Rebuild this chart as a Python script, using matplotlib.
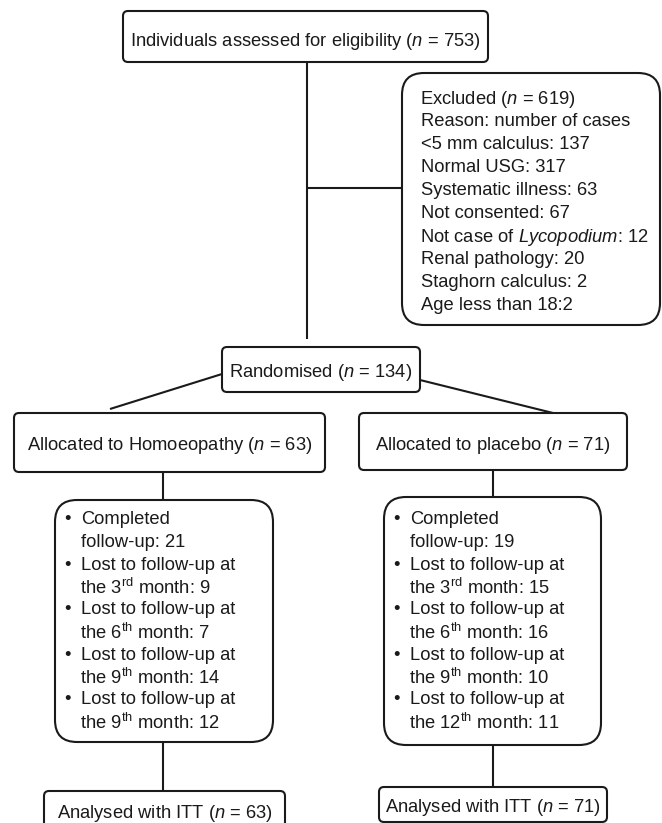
import matplotlib
matplotlib.use("Agg")
import matplotlib.pyplot as plt
from matplotlib.patches import FancyBboxPatch

plt.rcParams["font.family"] = ["Liberation Sans", "DejaVu Sans"]
plt.rcParams["mathtext.fontset"] = "custom"
plt.rcParams["mathtext.rm"] = "Liberation Sans"
plt.rcParams["mathtext.it"] = "Liberation Sans:italic"
plt.rcParams["mathtext.bf"] = "Liberation Sans:bold"

# flow counts
assessed = 753
excluded = 619
exclusion_reasons = ["<5 mm calculus", "Normal USG", "Systematic illness",
                     "Not consented", r"Not case of $\mathit{Lycopodium}$",
                     "Renal pathology", "Staghorn calculus", "Age less than 18"]
exclusion_counts = [137, 317, 63, 67, 12, 20, 2, 2]
randomised = 134
arm_names = ["Homoeopathy", "placebo"]
arm_n = [63, 71]
completed = [21, 19]
lost_months = [["3", "6", "9", "9"], ["3", "6", "9", "12"]]
lost_suffix = [["rd", "th", "th", "th"], ["rd", "th", "th", "th"]]
lost_counts = [[9, 7, 14, 12], [15, 16, 10, 11]]
analysed = [63, 71]

FS = 13.2
LW = 1.5
W, H = 662, 823

fig = plt.figure(figsize=(W / 100, H / 100), dpi=100)
ax = fig.add_axes([0, 0, 1, 1])
ax.set_xlim(0, W)
ax.set_ylim(H, 0)
ax.axis("off")


def box(x0, y0, x1, y1, r=5):
    p = FancyBboxPatch((x0, y0), x1 - x0, y1 - y0,
                       boxstyle=f"round,pad=0,rounding_size={r}",
                       fc="white", ec="#1a1a1a", lw=LW, zorder=2)
    ax.add_patch(p)


def line(xs, ys):
    ax.plot(xs, ys, color="#1a1a1a", lw=LW, solid_capstyle="butt", zorder=1)


def txt(x, y, s, ha="left"):
    # mathtext strings get a small leading gap, pull them back
    if ha == "left" and "$" in s:
        x -= 1
    ax.text(x, y, s, ha=ha, va="center_baseline", fontsize=FS,
            color="#1a1a1a", zorder=3)


n_it = r"$\mathit{n}$"

# top box
box(123, 11, 488, 62)
txt(305, 38, f"Individuals assessed for eligibility ({n_it} = {assessed})", "center")

# connector to randomised and excluded
line([307, 307], [62, 339])
line([307, 402], [188, 188])

# excluded box
box(402, 73, 660, 325, r=22)
ex_lines = [f"Excluded ({n_it} = {excluded})", "Reason: number of cases"]
for i, (r, c) in enumerate(zip(exclusion_reasons, exclusion_counts)):
    sep = ":" if i == len(exclusion_reasons) - 1 else ": "
    ex_lines.append(f"{r}{sep}{c}")
for i, s in enumerate(ex_lines):
    txt(421, 96 + i * 23.1, s)

# randomised
box(222, 347, 420, 392)
txt(321, 369, f"Randomised ({n_it} = {randomised})", "center")
line([222, 110], [374, 409])
line([420, 553], [380, 413])

# arms
arm_boxes = [(14, 413, 325, 472), (359, 413, 627, 470)]
inner_boxes = [(55, 500, 273, 742), (384, 497, 601, 745)]
anal_boxes = [(44, 791, 285, 840), (379, 787, 607, 822)]
anal_ty = [810, 804]
stems = [163, 493]

for k in range(2):
    x0, y0, x1, y1 = arm_boxes[k]
    box(x0, y0, x1, y1)
    txt((x0 + x1) / 2, 442, f"Allocated to {arm_names[k]} ({n_it} = {arm_n[k]})", "center")

    ix0, iy0, ix1, iy1 = inner_boxes[k]
    line([stems[k], stems[k]], [y1, iy0])
    box(ix0, iy0, ix1, iy1, r=22)

    rows = [("Completed", True), (f"follow-up: {completed[k]}", False)]
    for m, sfx, c in zip(lost_months[k], lost_suffix[k], lost_counts[k]):
        rows.append(("Lost to follow-up at", True))
        rows.append((f"the {m}$^{{\\mathrm{{{sfx}}}}}$ month: {c}", False))
    for j, (s, bullet) in enumerate(rows):
        y = 518 + j * 22.5
        if bullet:
            txt(ix0 + 9, y, "•")
        txt(ix0 + 26, y, s)

    ax0, ay0, ax1, ay1 = anal_boxes[k]
    line([stems[k], stems[k]], [iy1, ay0])
    box(ax0, ay0, ax1, ay1)
    txt((ax0 + ax1) / 2, anal_ty[k], f"Analysed with ITT ({n_it} = {analysed[k]})", "center")

fig.savefig("out.png", dpi=100, facecolor="white")
plt.close(fig)
